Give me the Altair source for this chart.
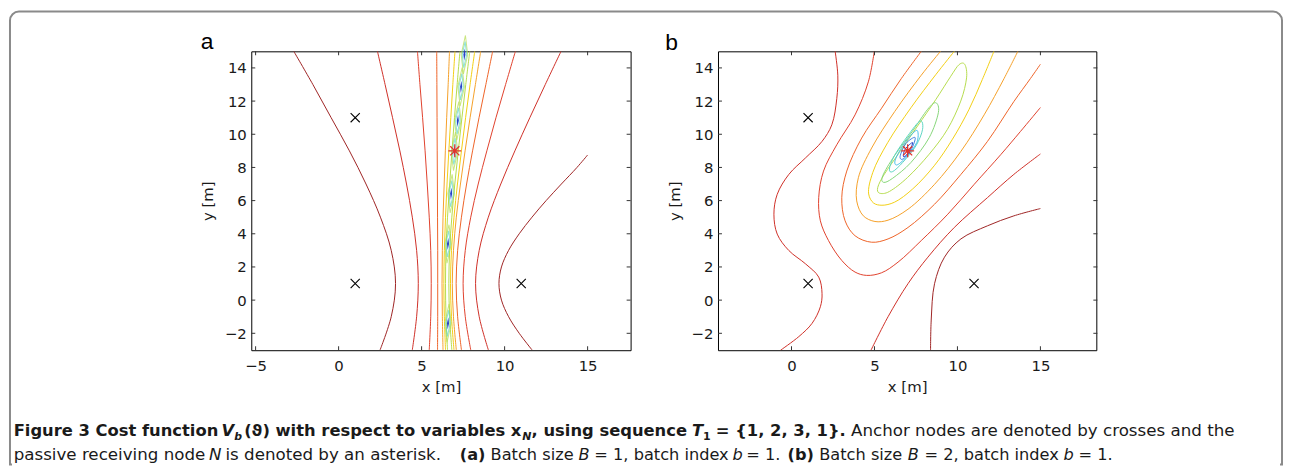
import altair as alt
import pandas as pd

# ---------------- data: panel a (B = 1) ----------------
A_Y = [15, 13, 11, 9, 7, 5, 3, 1, -1, -3]
A_L01_X = [-2.70, -1.55, -0.45, 0.65, 1.65, 2.52, 3.17, 3.43, 3.17, 2.50]
A_L02_X = [2.34, 2.80, 3.25, 3.69, 4.09, 4.44, 4.70, 4.80, 4.70, 4.44]
A_L03_X = [4.75, 4.90, 5.06, 5.21, 5.34, 5.46, 5.55, 5.58, 5.55, 5.46]
A_L04_X = [5.91, 5.92, 5.93, 5.94, 5.95, 5.96, 5.97, 5.97, 5.97, 5.96]
A_L05_X = [6.68, 6.60, 6.51, 6.43, 6.36, 6.29, 6.25, 6.23, 6.25, 6.29]
A_L06_X = [7.01, 6.88, 6.76, 6.64, 6.53, 6.44, 6.37, 6.34, 6.37, 6.44]
A_L07_X = [7.31, 7.14, 6.98, 6.83, 6.69, 6.56, 6.47, 6.44, 6.47, 6.56]
A_L08_X = [7.90, 7.66, 7.43, 7.21, 7.00, 6.82, 6.69, 6.64, 6.69, 6.82]
A_L09_X = [8.20, 7.92, 7.65, 7.40, 7.16, 6.95, 6.80, 6.74, 6.80, 6.95]
A_L10_X = [8.56, 8.24, 7.92, 7.62, 7.34, 7.09, 6.92, 6.85, 6.92, 7.09]
A_L11_X = [9.28, 8.87, 8.46, 8.07, 7.71, 7.40, 7.17, 7.08, 7.17, 7.40]
A_L12_X = [10.65, 10.06, 9.48, 8.93, 8.41, 7.96, 7.63, 7.50, 7.63, 7.96]
A_L13_X = [13.40, 12.45, 11.52, 10.62, 9.77, 9.02, 8.47, 8.25, 8.47, 9.02]
A_L14_X = [15.0, 14.36, 13.42, 12.50, 11.65, 10.88, 10.24, 9.81, 9.66, 9.81, 10.24, 10.88, 11.65]
A_L14_Y = [8.75, 8, 7, 6, 5, 4, 3, 2, 1, 0, -1, -2, -3]
A_BLOB_X = [7.58, 7.38, 7.18, 6.98, 6.78, 6.59, 6.59]
A_BLOB_Y = [14.8, 12.86, 10.81, 8.97, 6.42, 3.39, -1.40]

# ---------------- data: panel b (B = 2) ----------------
B_WIG_X = [2.63, 2.79, 2.73, 2.43, 1.84, 0.84, -0.16, -0.86, -1.06, -0.86, -0.16, 0.84, 1.64, 1.84, 1.74, 1.24, 0.44, -0.66]
B_WIG_Y = [15.0, 13.56, 12.16, 10.57, 9.57, 8.57, 7.58, 6.38, 5.18, 3.98, 2.99, 2.19, 1.39, 0.39, -0.40, -1.40, -2.20, -3.02]
B_DARK_X = [8.38, 8.42, 8.62, 9.22, 10.21, 11.81, 13.40, 15.0]
B_DARK_Y = [-3.02, -1.20, 0.99, 2.59, 3.69, 4.48, 5.08, 5.52]
B_LOW_X = [4.79, 5.82, 7.02, 8.22, 9.81, 11.81, 13.40, 15.0]
B_LOW_Y = [-3.02, -1.00, 0.99, 2.59, 4.38, 6.18, 7.58, 8.81]
B_RED_X = [4.99, 4.63, 3.83, 2.73, 1.93, 1.64, 1.74, 2.23, 3.03, 3.83, 4.53, 5.43, 6.42, 7.82, 9.42, 11.01, 12.61, 13.80, 15.0]
B_RED_Y = [15.0, 13.16, 11.17, 9.37, 7.78, 6.18, 4.78, 3.59, 2.39, 1.69, 1.49, 1.65, 2.29, 3.59, 5.18, 6.98, 8.77, 10.17, 11.61]
B_ORR_X = [7.82, 6.62, 5.43, 4.23, 3.33, 3.03, 3.23, 3.83, 4.83, 5.82, 7.02, 8.62, 10.21, 11.81, 13.40, 14.40, 15.0]
B_ORR_Y = [15.0, 13.36, 11.57, 9.77, 7.78, 6.18, 4.78, 3.88, 3.49, 3.69, 4.38, 5.78, 7.58, 9.57, 11.97, 13.36, 14.22]
B_ORA_X = [8.98, 7.82, 6.22, 4.83, 4.03, 3.93, 4.33, 5.03, 5.82, 7.02, 8.62, 10.21, 11.61, 12.81, 13.64]
B_ORA_Y = [15.0, 13.56, 11.37, 9.17, 7.38, 5.98, 5.08, 4.74, 4.82, 5.48, 6.98, 8.97, 11.17, 13.36, 15.0]
B_YEL_X = [9.81, 8.70, 7.20, 5.80, 4.90, 4.65, 4.95, 5.45, 6.20, 7.30, 8.60, 9.70, 10.70, 11.50, 12.20]
B_YEL_Y = [15.0, 13.60, 11.60, 9.50, 7.70, 6.40, 5.85, 5.72, 5.90, 6.70, 8.10, 9.70, 11.50, 13.30, 15.0]
B_YGR_X = [10.45, 10.55, 10.20, 9.40, 8.30, 7.00, 5.90, 5.30, 5.20, 5.60, 6.50, 7.60, 8.70, 9.60, 10.10]
B_YGR_Y = [14.20, 13.40, 12.00, 10.30, 8.80, 7.40, 6.55, 6.45, 6.80, 7.60, 8.90, 10.50, 12.10, 13.50, 14.20]
B_GRN_X = [8.70, 8.85, 8.30, 7.20, 6.10, 5.55, 5.50, 6.20, 7.30, 8.20]
B_GRN_Y = [11.90, 11.30, 9.80, 8.30, 7.35, 7.10, 7.50, 8.70, 10.20, 11.50]
B_AQU_X = [7.75, 7.90, 7.50, 6.70, 6.10, 5.90, 6.20, 7.00]
B_AQU_Y = [10.80, 10.30, 9.30, 8.30, 7.75, 7.90, 8.70, 9.90]
B_CYA_X = [7.60, 7.55, 6.90, 6.35, 6.25, 6.70, 7.30]
B_CYA_Y = [10.20, 9.50, 8.60, 8.15, 8.45, 9.30, 10.05]
B_LBL_X = [7.45, 7.20, 6.70, 6.55, 6.90]
B_LBL_Y = [9.80, 9.05, 8.50, 8.70, 9.45]
B_BLU_X = [7.30, 7.05, 6.75, 6.85]
B_BLU_Y = [9.50, 8.90, 8.65, 9.10]

ANCHOR_X = [1, 1, 11]
ANCHOR_Y = [1, 11, 1]
NODE_X = [7]
NODE_Y = [9]

X_TICKS_A = [-5, 0, 5, 10, 15]
X_TICKS_B = [0, 5, 10, 15]
Y_TICKS = [-2, 0, 2, 4, 6, 8, 10, 12, 14]

CAP_LINE1 = [
    ("Figure 3 Cost function", "bold"),
    ("V", "bolditalic"),
    ("b", "boldsub"),
    ("(\u03d1) with respect to variables", "bold"),
    ("x", "bold"),
    ("N", "boldsub"),
    (", using sequence", "bold"),
    ("T", "bolditalic"),
    ("1", "boldsubup"),
    ("= {1, 2, 3, 1}.", "bold"),
    ("Anchor nodes are denoted by crosses and the", "regular1"),
]
CAP_LINE1_PX = [12.7, 222.1, 234.9, 244.8, 513.3, 525.0, 534.3, 695.8, 707.0, 719.8, 856]
CAP_LINE2 = [
    ("passive receiving node", "regular1"),
    ("N", "italic1"),
    ("is denoted by an asterisk.", "regular1"),
    ("(a)", "bold2"),
    ("Batch size", "regular"),
    ("B", "italic"),
    ("= 1, batch index", "regular"),
    ("b", "italic"),
    ("= 1.", "regular"),
    ("(b)", "bold2"),
    ("Batch size", "regular"),
    ("B", "italic"),
    ("= 2, batch index", "regular"),
    ("b", "italic"),
    ("= 1.", "regular"),
]
CAP_LINE2_PX = [12.7, 209.5, 226.0, 462, 493, 581.5, 597.5, 736.5, 750.5, 792, 824, 913, 930, 1070, 1085]

# ---------------- helpers ----------------
AX_FONT = "DejaVu Sans"
CAP_FONT = "DejaVu Sans"
PW, PH = 382, 301
PAGE_X0, PAGE_Y0 = 252, 49  # page position of panel a plot area


def lines_df(specs):
    rows = []
    for name, xs, ys, col in specs:
        for i, (x, y) in enumerate(zip(xs, ys)):
            rows.append({"line": name, "i": i, "x": x, "y": y, "c": col})
    return pd.DataFrame(rows)


C_DARK = "#9e2424"
C_RED2 = "#cf2f27"
C_RED = "#e0412c"
C_ORR = "#ee6327"
C_ORA = "#f5a029"
C_YEL = "#f2cf14"
C_YGR = "#b5dc4e"
C_GRN = "#86d67a"
C_AQU = "#5fd6c4"
C_CYA = "#45bde6"
C_LBL = "#3d7fe0"
C_BLU = "#2343c8"

a_specs = [
    ("a01", A_L01_X, A_Y, C_DARK), ("a02", A_L02_X, A_Y, C_RED2), ("a03", A_L03_X, A_Y, C_RED),
    ("a04", A_L04_X, A_Y, C_ORR), ("a05", A_L05_X, A_Y, C_ORA), ("a06", A_L06_X, A_Y, C_YEL),
    ("a07", A_L07_X, A_Y, C_YGR), ("a08", A_L08_X, A_Y, C_YGR), ("a09", A_L09_X, A_Y, C_YEL),
    ("a10", A_L10_X, A_Y, C_ORA), ("a11", A_L11_X, A_Y, C_ORR), ("a12", A_L12_X, A_Y, C_RED),
    ("a13", A_L13_X, A_Y, C_RED2), ("a14", A_L14_X, A_L14_Y, C_DARK),
]
b_open = [
    ("wig", B_WIG_X, B_WIG_Y, C_RED2), ("dark", B_DARK_X, B_DARK_Y, C_DARK),
    ("low", B_LOW_X, B_LOW_Y, C_RED2), ("red", B_RED_X, B_RED_Y, C_RED),
    ("orr", B_ORR_X, B_ORR_Y, C_ORR), ("ora", B_ORA_X, B_ORA_Y, C_ORA),
    ("yel", B_YEL_X, B_YEL_Y, C_YEL),
]
b_closed = [
    ("ygr", B_YGR_X, B_YGR_Y, C_YGR), ("grn", B_GRN_X, B_GRN_Y, C_GRN),
    ("aqu", B_AQU_X, B_AQU_Y, C_AQU), ("cya", B_CYA_X, B_CYA_Y, C_CYA),
    ("lbl", B_LBL_X, B_LBL_Y, C_LBL), ("blu", B_BLU_X, B_BLU_Y, C_BLU),
]

anchors = pd.DataFrame({"x": ANCHOR_X, "y": ANCHOR_Y})
node = pd.DataFrame({"x": NODE_X, "y": NODE_Y})
blobs = pd.DataFrame({"x": A_BLOB_X, "y": A_BLOB_Y})

CROSS = "M-1,-1L1,1M-1,1L1,-1"
STAR = "M-1,0L1,0M0,-1L0,1M-0.7,-0.7L0.7,0.7M-0.7,0.7L0.7,-0.7"
DIAMOND = "M0,-1L0.17,0L0,1L-0.17,0Z"


def panel(xdom, xticks, label, label_dx, label_dy, open_specs, closed_specs=None, with_blobs=False):
    xs = alt.Scale(domain=xdom, nice=False, zero=False)
    ys = alt.Scale(domain=[-3.02, 15.0], nice=False, zero=False)
    xax = alt.Axis(values=xticks, ticks=False, tickSize=0, domain=False, grid=False,
                   labelFont=AX_FONT, labelFontSize=15, labelColor="#1a1a1a", labelPadding=8,
                   labelFlush=False, labelOverlap=False, title="x [m]", titleFont=AX_FONT,
                   titleFontSize=15, titleFontWeight="normal", titleColor="#1a1a1a", titlePadding=7)
    yax = alt.Axis(values=Y_TICKS, ticks=False, tickSize=0, domain=False, grid=False,
                   labelFont=AX_FONT, labelFontSize=15, labelColor="#1a1a1a", labelPadding=5,
                   labelFlush=False, labelOverlap=False, title="y [m]", titleFont=AX_FONT,
                   titleFontSize=15, titleFontWeight="normal", titleColor="#1a1a1a", titlePadding=9)
    X = alt.X("x:Q", scale=xs, axis=xax)
    Y = alt.Y("y:Q", scale=ys, axis=yax)

    layers = []
    layers.append(
        alt.Chart(lines_df(open_specs)).mark_line(clip=True, strokeWidth=1.0, interpolate="catmull-rom")
        .encode(x=X, y=Y, detail="line:N", order="i:Q", color=alt.Color("c:N", scale=None))
    )
    if closed_specs:
        layers.append(
            alt.Chart(lines_df(closed_specs)).mark_line(clip=True, strokeWidth=1.0, interpolate="cardinal-closed")
            .encode(x=X, y=Y, detail="line:N", order="i:Q", color=alt.Color("c:N", scale=None))
        )
    if with_blobs:
        layers.append(alt.Chart(blobs).mark_point(shape=DIAMOND, size=1500, filled=False, strokeWidth=1,
                                                  color=C_YGR, angle=3).encode(x=X, y=Y))
        layers.append(alt.Chart(blobs).mark_point(shape=DIAMOND, size=700, filled=False, strokeWidth=1,
                                                  color=C_AQU, angle=3).encode(x=X, y=Y))
        layers.append(alt.Chart(blobs).mark_point(shape=DIAMOND, size=150, filled=True, strokeWidth=0,
                                                  color=C_BLU, opacity=1, angle=3).encode(x=X, y=Y))
    layers.append(alt.Chart(anchors).mark_point(shape=CROSS, size=85, filled=False, strokeWidth=1.1,
                                                color="black", opacity=1).encode(x=X, y=Y))
    layers.append(alt.Chart(node).mark_point(shape=STAR, size=170, filled=False, strokeWidth=1.3,
                                             color="#e3342a", opacity=1).encode(x=X, y=Y))
    # inward ticks on all four sides
    xt = pd.DataFrame({"x": xticks})
    yt = pd.DataFrame({"y": Y_TICKS})
    for yv in (PH - 2, 2):
        layers.append(alt.Chart(xt).mark_tick(size=4, thickness=1, color="#333", opacity=1)
                      .encode(x=X, y=alt.value(yv)))
    for xv in (2, PW - 2):
        layers.append(alt.Chart(yt).mark_tick(size=4, thickness=1, color="#333", opacity=1)
                      .encode(y=Y, x=alt.value(xv)))
    one = pd.DataFrame({"k": [0]})
    layers.append(alt.Chart(one).mark_text(text=label, font="Liberation Sans", fontSize=23, align="left",
                                           baseline="alphabetic", color="black")
                  .encode(x=alt.value(label_dx), y=alt.value(label_dy)))
    return layers, one


a_layers, one = panel([-5.26, 17.59], X_TICKS_A, "a", -51, -2, a_specs, with_blobs=True)
b_layers, _ = panel([-4.43, 18.37], X_TICKS_B, "b", -53, -1, b_open, closed_specs=b_closed)

# frame around the figure and the caption (positioned relative to panel a)
frame = alt.Chart(one).mark_rect(fillOpacity=0, stroke="#8a8a8a", strokeWidth=2,
                                 cornerRadiusTopLeft=9, cornerRadiusTopRight=9).encode(
    x=alt.value(-243), x2=alt.value(1038), y=alt.value(-40), y2=alt.value(416))
frame_cover = alt.Chart(one).mark_rule(color="white", strokeWidth=4).encode(
    x=alt.value(-241), x2=alt.value(1036), y=alt.value(416))
a_layers = [frame, frame_cover] + a_layers

STYLE = {
    "regular": dict(fontWeight="normal", fontStyle="normal", fontSize=16.3, dy=0),
    "italic": dict(fontWeight="normal", fontStyle="italic", fontSize=16.3, dy=0),
    "regular1": dict(fontWeight="normal", fontStyle="normal", fontSize=16.8, dy=0),
    "italic1": dict(fontWeight="normal", fontStyle="italic", fontSize=16.8, dy=0),
    "bold": dict(fontWeight="bold", fontStyle="normal", fontSize=16.45, dy=0),
    "bold2": dict(fontWeight="bold", fontStyle="normal", fontSize=16.3, dy=0),
    "bolditalic": dict(fontWeight="bold", fontStyle="italic", fontSize=16.45, dy=0),
    "boldsub": dict(fontWeight="bold", fontStyle="italic", fontSize=11, dy=4),
    "boldsubup": dict(fontWeight="bold", fontStyle="normal", fontSize=11, dy=4),
}
for segs, pxs, base in ((CAP_LINE1, CAP_LINE1_PX, 436), (CAP_LINE2, CAP_LINE2_PX, 461)):
    for (txt, st), px in zip(segs, pxs):
        s = STYLE[st]
        a_layers.append(
            alt.Chart(one).mark_text(text=txt, font=CAP_FONT, fontSize=s["fontSize"], fontWeight=s["fontWeight"],
                                     fontStyle=s["fontStyle"], align="left", baseline="alphabetic",
                                     color="#1a1a1a")
            .encode(x=alt.value(px - PAGE_X0), y=alt.value(base - PAGE_Y0 + s["dy"]))
        )

view = alt.ViewBackground(stroke="black", strokeWidth=1, fill="white")
panel_a = alt.layer(*a_layers).properties(width=PW, height=PH, view=view)
panel_b = alt.layer(*b_layers).properties(width=381, height=PH, view=view)

chart = alt.hconcat(panel_a, panel_b, spacing=88, bounds="flush").properties(
    padding=0, background="white"
).configure_view(stroke="black")

chart.save("out.html", embed_options={"renderer": "svg", "actions": False})
